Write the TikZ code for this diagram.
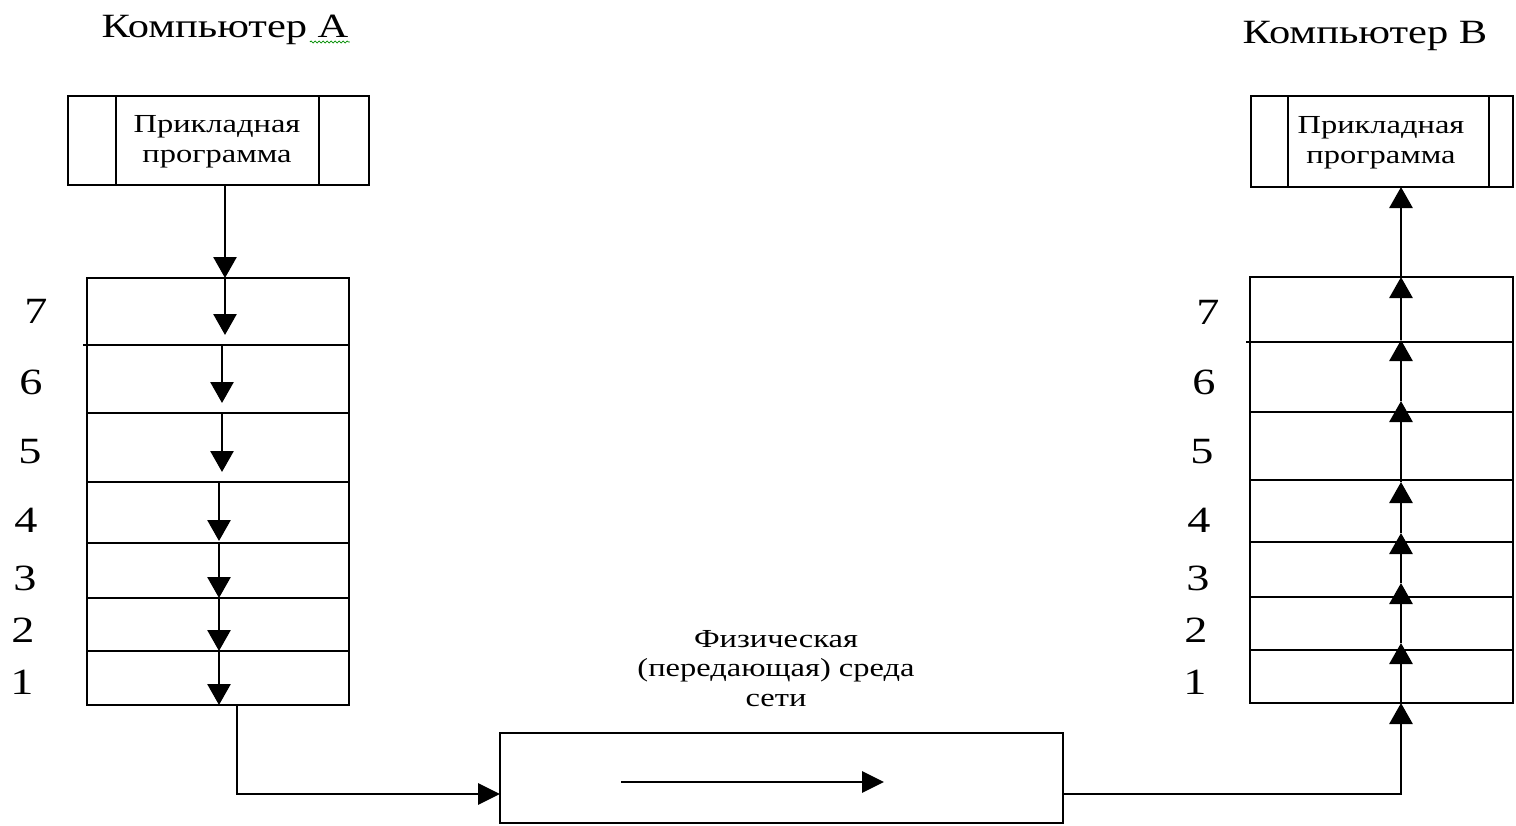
\documentclass[tikz,border=0pt]{standalone}
\usepackage{fontspec}
\setmainfont{Liberation Serif}[FakeStretch=1.25]
\usetikzlibrary{arrows.meta,decorations.pathmorphing}
\begin{document}
\begin{tikzpicture}[x=1pt,y=-1pt,
  line width=2.8pt,
  box/.style={draw,rectangle,line width=2.8pt,inner sep=0pt,outer sep=0pt},
  layerA/.style={box,minimum width=262pt},
  layerB/.style={box,minimum width=263pt},
  arr/.style={-{Triangle[width=23pt,length=21pt]},line width=2.8pt},
  arrsmall/.style={-{Triangle[width=21pt,length=22pt]},line width=2.8pt},
  lbl/.style={font=\fontsize{26}{30}\selectfont,align=center,inner sep=0pt},
  num/.style={font=\fontsize{37}{40}\selectfont,inner sep=0pt},
  ttl/.style={font=\fontsize{34}{36}\selectfont,inner sep=0pt,anchor=base}]
\useasboundingbox (0,0) rectangle (1516,825);

% titles
\node[ttl] (tA) at (225,37) {Компьютер А};
\node[ttl] (tB) at (1365,43) {Компьютер В};
\draw[green!55!black,line width=0.8pt,decorate,decoration={snake,amplitude=1pt,segment length=4pt}]
  ([xshift=-40pt,yshift=-5pt]tA.base east) -- ([yshift=-5pt]tA.base east);

% application boxes
\node[box,minimum width=301pt,minimum height=89pt] (appA) at (218.5,140.5) {};
\node[lbl] (appAt) at (217,142) {Прикладная\\программа};
\draw ([xshift=48pt]appA.north west) -- ([xshift=48pt]appA.south west);
\draw ([xshift=-50pt]appA.north east) -- ([xshift=-50pt]appA.south east);

\node[box,minimum width=262pt,minimum height=91pt] (appB) at (1382,141.5) {};
\node[lbl] (appBt) at (1381,143) {Прикладная\\программа};
\draw ([xshift=37pt]appB.north west) -- ([xshift=37pt]appB.south west);
\draw ([xshift=-24pt]appB.north east) -- ([xshift=-24pt]appB.south east);

% left stack
\node[layerA,minimum height=67pt] (L7) at (218,311.5) {};
\node[layerA,minimum height=68pt] (L6) at (218,379) {};
\node[layerA,minimum height=69pt] (L5) at (218,447.5) {};
\node[layerA,minimum height=61pt] (L4) at (218,512.5) {};
\node[layerA,minimum height=55pt] (L3) at (218,570.5) {};
\node[layerA,minimum height=53pt] (L2) at (218,624.5) {};
\node[layerA,minimum height=54pt] (L1) at (218,678) {};
\draw (L6.north west) -- ++(-4,0);

% right stack
\node[layerB,minimum height=65pt] (R7) at (1381.5,309.5) {};
\node[layerB,minimum height=70pt] (R6) at (1381.5,377) {};
\node[layerB,minimum height=68pt] (R5) at (1381.5,446) {};
\node[layerB,minimum height=62pt] (R4) at (1381.5,511) {};
\node[layerB,minimum height=55pt] (R3) at (1381.5,569.5) {};
\node[layerB,minimum height=53pt] (R2) at (1381.5,623.5) {};
\node[layerB,minimum height=53pt] (R1) at (1381.5,676.5) {};
\draw (R6.north west) -- ++(-4,0);

% layer numbers
\node[num] (nL7) at (36,311) {7};
\node[num] (nL6) at (31,382) {6};
\node[num] (nL5) at (30,452) {5};
\node[num] (nL4) at (26,520) {4};
\node[num] (nL3) at (25,578) {3};
\node[num] (nL2) at (23,630) {2};
\node[num] (nL1) at (22,682) {1};
\node[num] (nR7) at (1208,312) {7};
\node[num] (nR6) at (1204,382) {6};
\node[num] (nR5) at (1202,452) {5};
\node[num] (nR4) at (1199,520) {4};
\node[num] (nR3) at (1198,578) {3};
\node[num] (nR2) at (1196,630) {2};
\node[num] (nR1) at (1195,682) {1};

% physical medium
\node[box,minimum width=563pt,minimum height=90pt] (media) at (781.5,778) {};
\node[lbl,font=\fontsize{26}{29.5}\selectfont] (medl) at (776,668.5) {Физическая\\(передающая) среда\\сети};
\coordinate (m1) at (621,782);
\coordinate (m2) at (884,782);
\draw[arrsmall] (m1) -- (m2);

% left downward arrows
\coordinate (xa) at (225,0);
\coordinate (xb) at (222,0);
\coordinate (xc) at (219,0);
\coordinate (tA7) at (225,335);
\coordinate (tA6) at (222,403);
\coordinate (tA5) at (222,472);
\coordinate (tA4) at (219,541);
\draw[arr] (appA.south -| xa) -- (L7.north -| xa);
\draw[arr] (L7.north -| xa) -- (tA7);
\draw[arr] (L6.north -| xb) -- (tA6);
\draw[arr] (L5.north -| xb) -- (tA5);
\draw[arr] (L4.north -| xc) -- (tA4);
\draw[arr] (L3.north -| xc) -- (L3.south -| xc);
\draw[arr] (L2.north -| xc) -- (L2.south -| xc);
\draw[arr] (L1.north -| xc) -- (L1.south -| xc);

% bottom connectors
\coordinate (bus) at (0,794);
\coordinate (xd) at (237,0);
\coordinate (xr) at (1401,0);
\draw[arrsmall] (L1.south -| xd) |- (media.west |- bus);
\draw[arr] (media.east |- bus) -| (R1.south -| xr);

% right upward arrows
\coordinate (u1) at (1401,643);
\coordinate (u2) at (1401,583);
\coordinate (u3) at (1401,533);
\coordinate (u4) at (1401,482);
\coordinate (u5) at (1401,401);
\coordinate (u6) at (1401,340);
\draw[arr] (R1.south -| xr) -- (u1);
\draw[arr] (u1) -- (u2);
\draw[arr] (u2) -- (u3);
\draw[arr] (u3) -- (u4);
\draw[arr] (u4) -- (u5);
\draw[arr] (u5) -- (u6);
\draw[arr] (u6) -- (R7.north -| xr);
\draw[arr] (R7.north -| xr) -- (appB.south -| xr);
\end{tikzpicture}
\end{document}
